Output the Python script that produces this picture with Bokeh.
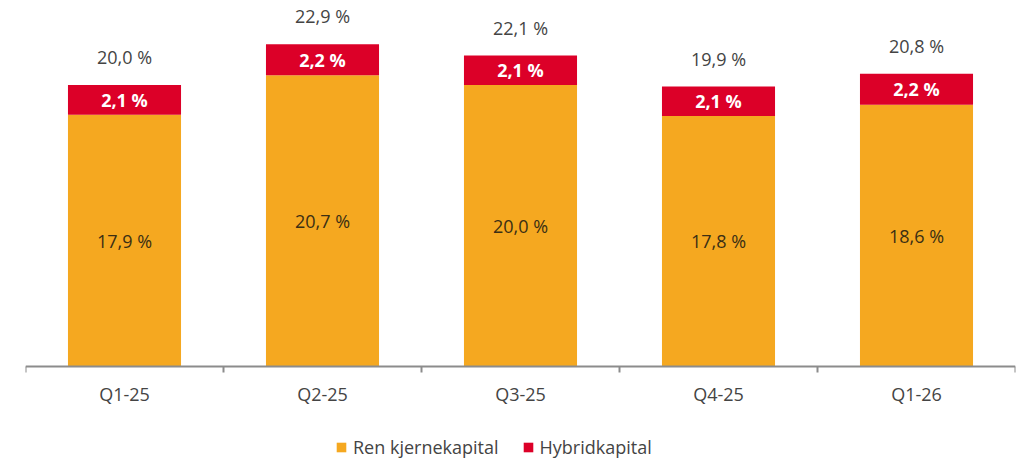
import math
from bokeh.plotting import figure
from bokeh.models import ColumnDataSource, Range1d, Span
from bokeh.core.properties import value
from bokeh.embed import file_html
from bokeh.resources import INLINE

categories = ["Q1-25", "Q2-25", "Q3-25", "Q4-25", "Q1-26"]
ren_kjernekapital = [17.9, 20.7, 20.0, 17.8, 18.6]
hybridkapital = [2.1, 2.2, 2.1, 2.1, 2.2]
totals = [20.0, 22.9, 22.1, 19.9, 20.8]
series_names = ["Ren kjernekapital", "Hybridkapital"]

ORANGE = "#F5A820"
RED = "#DC0028"
AXIS = "#8c8c8c"
TXT = "#444444"
FONT = "Open Sans"

PX_PER_UNIT = 14.07


def fmt(v):
    return f"{v:.1f}".replace(".", ",") + " %"


xs = [i + 0.5 for i in range(len(categories))]
bounds = list(range(len(categories) + 1))
src = ColumnDataSource(dict(
    x=xs,
    cat=categories,
    zero=[0] * len(categories),
    ren=ren_kjernekapital,
    hyb=hybridkapital,
    tot=totals,
    ren_mid=[r / 2 for r in ren_kjernekapital],
    hyb_mid=[r + h / 2 for r, h in zip(ren_kjernekapital, hybridkapital)],
    ren_lab=[fmt(v) for v in ren_kjernekapital],
    hyb_lab=[fmt(v) for v in hybridkapital],
    tot_lab=[fmt(v) for v in totals],
))

p = figure(width=1020, height=459, output_backend="svg", toolbar_location=None,
           x_range=Range1d(0, 5),
           y_range=Range1d(-(459 - 366) / PX_PER_UNIT, 366 / PX_PER_UNIT),
           x_axis_location=None, y_axis_location=None,
           min_border_left=25, min_border_right=5, min_border_top=0, min_border_bottom=0)
p.outline_line_color = None
p.grid.visible = False
p.background_fill_color = "white"

p.vbar_stack(["ren", "hyb"], x="x", width=0.571, source=src, color=[ORANGE, RED],
             line_color=None, legend_label=series_names)

# category axis: base line, boundary ticks and labels
p.add_layout(Span(location=0, dimension="width", line_color=AXIS, line_width=2))
p.ray(x=bounds, y=[0] * len(bounds), length=6, length_units="screen",
      angle=-math.pi / 2, line_color=AXIS, line_width=2)
p.text(x="x", y="zero", text="cat", source=src, text_align="center",
       text_baseline="middle", y_offset=27, text_font=value(FONT),
       text_font_size="18px", text_color=TXT)

p.text(x="x", y="ren_mid", text="ren_lab", source=src, text_align="center",
       text_baseline="middle", text_font=value(FONT), text_font_size="18px",
       text_color="#3b2f14")
p.text(x="x", y="hyb_mid", text="hyb_lab", source=src, text_align="center",
       text_baseline="middle", text_font=value(FONT), text_font_size="18px",
       text_font_style="bold", text_color="white")
p.text(x="x", y="tot", text="tot_lab", source=src, text_align="center",
       text_baseline="middle", y_offset=-28, text_font=value(FONT),
       text_font_size="18px", text_color=TXT)

lg = p.legend[0]
lg.orientation = "horizontal"
lg.location = (310, 0)
lg.padding = 0
lg.margin = 0
lg.spacing = 23
lg.border_line_color = None
lg.background_fill_alpha = 0
lg.glyph_width = 12
lg.glyph_height = 12
lg.label_standoff = 6
lg.label_height = 24
lg.label_text_font = FONT
lg.label_text_font_size = "18px"
lg.label_text_color = TXT

open("out.html", "w").write(file_html(p, INLINE))
